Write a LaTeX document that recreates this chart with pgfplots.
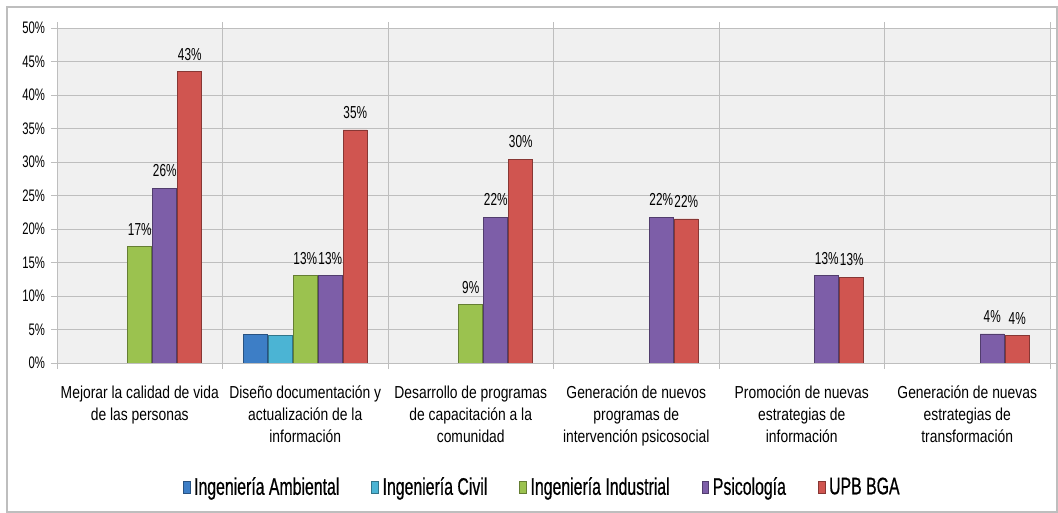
\documentclass[border=0pt]{standalone}
\usepackage{pgfplots}
\pgfplotsset{compat=1.18}
\usepackage{fontspec}
\setmainfont{Liberation Sans}[FakeStretch=0.8]
\newfontfamily\legfont{Liberation Sans}[FakeStretch=0.66,FakeBold=0.6]
\newfontfamily\tickfont{Liberation Sans}[FakeStretch=0.68]

\definecolor{cA}{RGB}{61,126,198}
\definecolor{cC}{RGB}{75,180,212}
\definecolor{cI}{RGB}{155,194,79}
\definecolor{cP}{RGB}{125,94,168}
\definecolor{cU}{RGB}{208,85,80}
\definecolor{bg}{RGB}{240,240,240}
\definecolor{grd}{RGB}{190,190,190}

\begin{document}
\begin{tikzpicture}
\path[use as bounding box] (-42.75pt,-112.5pt) rectangle (750.75pt,272.25pt);
\draw[grd, line width=0.8pt] (-37.5pt,-111.75pt) rectangle (750pt,267pt);
\begin{axis}[
  at={(0,0)}, anchor=south west,
  scale only axis, width=744.75pt, height=251.25pt,
  ybar=0.75pt, bar width=18pt,
  xmin=-0.5, xmax=5.5, ymin=0, ymax=50,
  enlargelimits=false,
  xtick={-0.5,0.5,...,5.5},
  x tick label as interval=true,
  xticklabels={{Mejorar la calidad de vida\\de las personas},
               {Diseño documentación y\\actualización de la\\información},
               {Desarrollo de programas\\de capacitación a la\\comunidad},
               {Generación de nuevos\\programas de\\intervención psicosocial},
               {Promoción de nuevas\\estrategias de\\información},
               {Generación de nuevas\\estrategias de\\transformación}},
  xticklabel style={align=center, font=\fontsize{13}{16.5}\selectfont, yshift=-9pt},
  ytick={0,5,...,50},
  yticklabel={\pgfmathprintnumber{\tick}\%},
  yticklabel style={font=\tickfont\fontsize{12.5}{14}\selectfont, xshift=-1pt},
  /pgf/number format/assume math mode=true,
  xmajorgrids, ymajorgrids,
  grid style={grd, line width=0.6pt},
  axis line style={grd, line width=0.6pt},
  tick style={grd, line width=0.6pt},
  tick align=outside, major tick length=4.5pt,
  axis background/.style={fill=bg},
  legend style={at={(0.489,-0.37)}, anchor=center, draw=none, fill=none,
    legend columns=-1, font=\legfont\fontsize{18}{20}\selectfont,
    /tikz/every even column/.append style={column sep=22pt},
    /tikz/every odd column/.append style={column sep=1pt}},
  legend image code/.code={\path[#1] (0pt,-4.5pt) rectangle (5pt,4.5pt);},
  every node near coord/.append style={font=\tickfont\fontsize{13}{15}\selectfont, black, yshift=5pt},
]
\addplot[draw=cA!65!black, fill=cA]
  coordinates {(1,4.35)};
\addlegendentry{Ingeniería Ambiental}
\addplot[draw=cC!65!black, fill=cC]
  coordinates {(1,4.15)};
\addlegendentry{Ingeniería Civil}
\addplot[draw=cI!65!black, fill=cI,
  point meta=y, nodes near coords={\pgfmathprintnumber[fixed,precision=0]{\pgfplotspointmeta}\%}]
  coordinates {(0,17.39) (1,13.04) (2,8.70)};
\addlegendentry{Ingeniería Industrial}
\addplot[draw=cP!65!black, fill=cP,
  point meta=y, nodes near coords={\pgfmathprintnumber[fixed,precision=0]{\pgfplotspointmeta}\%}]
  coordinates {(0,26.09) (1,13.04) (2,21.74) (3,21.74) (4,13.04) (5,4.35)};
\addlegendentry{Psicología}
\addplot[draw=cU!65!black, fill=cU,
  point meta=y, nodes near coords={\pgfmathprintnumber[fixed,precision=0]{\pgfplotspointmeta}\%}]
  coordinates {(0,43.48) (1,34.78) (2,30.43) (3,21.5) (4,12.8) (5,4.1)};
\addlegendentry{UPB BGA}
\end{axis}
\end{tikzpicture}
\end{document}
